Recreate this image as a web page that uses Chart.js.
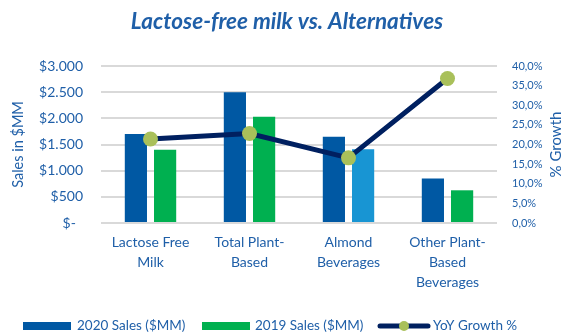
<!DOCTYPE html>
<html>
<head>
<meta charset="utf-8">
<script src="https://cdn.jsdelivr.net/npm/chart.js@4.4.0/dist/chart.umd.min.js"></script>
<style>
  html, body { margin: 0; padding: 0; background: #ffffff; }
  #wrap { width: 563px; height: 334px; position: relative; }
</style>
</head>
<body>
<div id="wrap"><canvas id="c" width="563" height="334"></canvas></div>
<script>
const chartTitle = "Lactose-free milk vs. Alternatives";
const categories = [["Lactose Free", "Milk"], ["Total Plant-", "Based"], ["Almond", "Beverages"], ["Other Plant-", "Based", "Beverages"]];
const sales2020 = [1700, 2500, 1650, 850];
const sales2019 = [1400, 2030, 1410, 625];
const yoyGrowth = [0.214, 0.228, 0.166, 0.368];
const seriesNames = ["2020 Sales ($MM)", "2019 Sales ($MM)", "YoY Growth %"];
const leftAxisTitle = "Sales in $MM";
const rightAxisTitle = "% Growth";

const BLUE_TEXT = "#1f5fa8";
const FONT = "Lato, 'Open Sans', sans-serif";
const c2020 = "#0058a3";
const c2019 = ["#00b050", "#00b050", "#1895d3", "#00b050"];
const cLine = "#002060";
const cPoint = "#a9c05a";

function fmtDollar(v) {
  if (v === 0) return "$-  ";
  return "$" + v.toString().replace(/\B(?=(\d{3})+(?!\d))/g, ".");
}
function fmtPct(v) {
  return (v * 100).toFixed(1).replace(".", ",") + "%";
}

const overlay = {
  id: "overlay",
  afterDraw(chart) {
    const ctx = chart.ctx;
    ctx.save();
    // title
    ctx.fillStyle = BLUE_TEXT;
    ctx.font = "italic bold 22.5px " + FONT;
    ctx.textAlign = "center";
    ctx.textBaseline = "middle";
    ctx.fillText(chartTitle, 287, 22);
    // right axis title, reading bottom to top
    const ca = chart.chartArea;
    ctx.save();
    ctx.translate(556, (ca.top + ca.bottom) / 2);
    ctx.rotate(-Math.PI / 2);
    ctx.font = "15px " + FONT;
    ctx.fillText(rightAxisTitle, 0, 0);
    ctx.restore();
    // legend
    const ly = 326;
    ctx.font = "13.5px " + FONT;
    ctx.textAlign = "left";
    // 2020
    ctx.fillStyle = c2020;
    ctx.fillRect(23, ly - 4, 48, 8);
    ctx.fillStyle = BLUE_TEXT;
    ctx.fillText(seriesNames[0], 77, ly);
    // 2019
    ctx.fillStyle = c2019[0];
    ctx.fillRect(202, ly - 4, 48, 8);
    ctx.fillStyle = BLUE_TEXT;
    ctx.fillText(seriesNames[1], 255, ly);
    // line
    ctx.strokeStyle = cLine;
    ctx.lineWidth = 5;
    ctx.lineCap = "round";
    ctx.beginPath();
    ctx.moveTo(380, ly);
    ctx.lineTo(428, ly);
    ctx.stroke();
    ctx.fillStyle = cPoint;
    ctx.beginPath();
    ctx.arc(404, ly, 5, 0, Math.PI * 2);
    ctx.fill();
    ctx.fillStyle = BLUE_TEXT;
    ctx.fillText(seriesNames[2], 433, ly);
    ctx.restore();
  }
};

new Chart(document.getElementById("c"), {
  data: {
    labels: categories,
    datasets: [
      {
        type: "line",
        label: seriesNames[2],
        data: yoyGrowth,
        yAxisID: "y1",
        borderColor: cLine,
        borderWidth: 5,
        pointBackgroundColor: cPoint,
        pointBorderColor: cPoint,
        pointRadius: 7.5,
        pointBorderWidth: 0,
        tension: 0,
        order: 0
      },
      {
        type: "bar",
        label: seriesNames[0],
        data: sales2020,
        yAxisID: "y",
        backgroundColor: c2020,
        categoryPercentage: 0.59,
        barPercentage: 0.76,
        order: 1
      },
      {
        type: "bar",
        label: seriesNames[1],
        data: sales2019,
        yAxisID: "y",
        backgroundColor: c2019,
        categoryPercentage: 0.59,
        barPercentage: 0.76,
        order: 2
      }
    ]
  },
  options: {
    responsive: false,
    animation: false,
    layout: { padding: { top: 66, bottom: 31, left: 0, right: 0 } },
    plugins: {
      legend: { display: false },
      title: { display: false },
      tooltip: { enabled: false }
    },
    scales: {
      x: {
        grid: { display: false, drawTicks: false },
        border: { display: false },
        ticks: {
          color: BLUE_TEXT,
          font: { family: FONT, size: 14, lineHeight: 1.4 },
          padding: 10,
          maxRotation: 0,
          autoSkip: false
        },
        afterFit(s) { s.height = 80; }
      },
      y: {
        position: "left",
        min: 0,
        max: 3000,
        grid: { color: "#d9d9d9", lineWidth: 2, drawTicks: false },
        border: { display: false },
        ticks: {
          stepSize: 500,
          color: BLUE_TEXT,
          font: { family: FONT, size: 14 },
          padding: 18,
          callback: (v) => fmtDollar(v)
        },
        title: {
          display: true,
          text: leftAxisTitle,
          color: BLUE_TEXT,
          font: { family: FONT, size: 14.5 },
          padding: { top: 10, bottom: 0 }
        },
        afterFit(s) { s.width = 101; }
      },
      y1: {
        position: "right",
        min: 0,
        max: 0.4,
        grid: { display: false, drawTicks: false },
        border: { display: false },
        ticks: {
          stepSize: 0.05,
          color: BLUE_TEXT,
          font: { family: FONT, size: 11 },
          padding: 15,
          callback: (v) => fmtPct(v)
        },
        afterFit(s) { s.width = 66; }
      }
    }
  },
  plugins: [overlay]
});
</script>
</body>
</html>
